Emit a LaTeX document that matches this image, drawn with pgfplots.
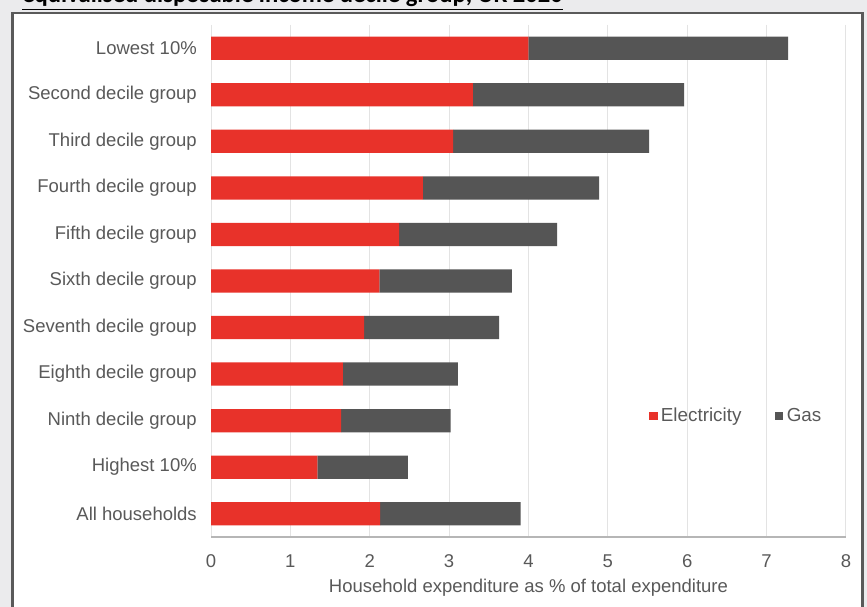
\documentclass[border=0pt]{standalone}
\usepackage{pgfplots}
\pgfplotsset{compat=1.18}
\usepackage{fontspec}
\setmainfont{Liberation Sans}
\newfontfamily\titlefont{Carlito}
\definecolor{elec}{HTML}{E8322A}
\definecolor{gas}{HTML}{555555}
\definecolor{txt}{HTML}{595959}
\definecolor{grd}{HTML}{E3E3E3}
\definecolor{bg}{HTML}{EBEBED}
\definecolor{frame}{HTML}{5A5A5A}
\pgfplotstableread{
idx elec gas
0 4.00 3.27
1 3.30 2.66
2 3.05 2.47
3 2.67 2.22
4 2.37 1.99
5 2.12 1.67
6 1.93 1.70
7 1.66 1.45
8 1.64 1.38
9 1.34 1.14
10 2.13 1.77
}\datatable
\begin{document}
\begin{tikzpicture}
\clip (0,0) rectangle ({867*0.6pt},{607*0.6pt});
\fill[bg] (0,0) rectangle ({867*0.6pt},{607*0.6pt});
\fill[white] ({12*0.6pt},{-10*0.6pt}) rectangle ({863*0.6pt},{(607-13)*0.6pt});
\draw[frame, line width=1.4pt] ({12.5*0.6pt},{-10*0.6pt}) -- ({12.5*0.6pt},{(607-13)*0.6pt}) -- ({862.5*0.6pt},{(607-13)*0.6pt}) -- ({862.5*0.6pt},{-10*0.6pt});
\node[anchor=base west, inner sep=0pt, font=\titlefont\bfseries\fontsize{14.8}{16}\selectfont] at ({22*0.6pt},{(607-3)*0.6pt}) {\underline{equivalised disposable income decile group, UK 2020}};
\begin{axis}[
  at={({211*0.6pt},{(607-537)*0.6pt})}, anchor=south west,
  scale only axis,
  width={635*0.6pt}, height={512*0.6pt},
  xbar stacked, bar width=0.5,
  xmin=0, xmax=8, ymin=-0.5, ymax=10.5,
  y dir=reverse,
  ytick={0,...,10},
  yticklabels={Lowest 10\%, Second decile group, Third decile group, Fourth decile group, Fifth decile group, Sixth decile group, Seventh decile group, Eighth decile group, Ninth decile group, Highest 10\%, All households},
  xtick={0,...,8},
  xmajorgrids, grid style={grd, line width=0.6pt},
  axis x line*=bottom, axis y line*=left,
  x axis line style={draw=grd!80!black, line width=0.8pt, -},
  y axis line style={draw=none},
  major tick length=0pt,
  tick style={draw=none},
  ticklabel style={font=\fontsize{11.1}{13}\selectfont, text=txt},
  /pgf/number format/assume math mode=true,
  yticklabel style={xshift=-5pt},
  xticklabel style={yshift=-7pt},
  xlabel={Household expenditure as \% of total expenditure},
  xlabel style={font=\fontsize{11.1}{13}\selectfont, text=txt, yshift=0pt},
  legend style={draw=none, fill=none, at={(axis cs:5.45,7.9)}, anchor=west, legend columns=2, font=\fontsize{11.3}{13}\selectfont, text=txt, /tikz/every even column/.append style={column sep=18pt}},
  legend image code/.code={\fill[#1] (0pt,-2.6pt) rectangle (5.2pt,2.6pt);},
  legend cell align=left,
]
\addplot[fill=elec, draw=none] table[x=elec, y=idx] {\datatable};
\addlegendentry{Electricity}
\addplot[fill=gas, draw=none] table[x=gas, y=idx] {\datatable};
\addlegendentry{Gas}
\end{axis}
\end{tikzpicture}
\end{document}
